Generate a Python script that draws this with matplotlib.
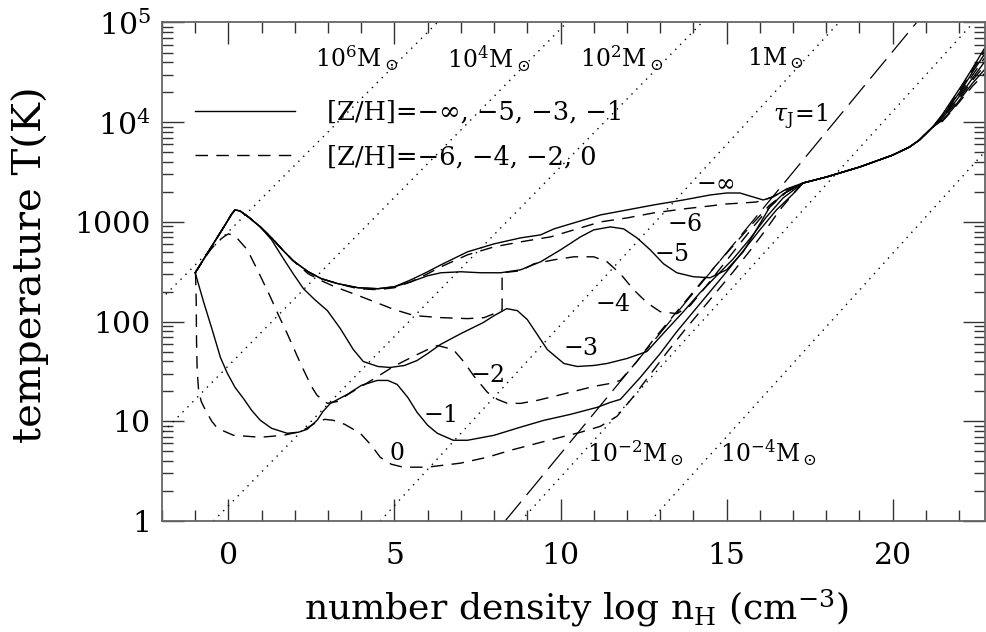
import numpy as np
import matplotlib
matplotlib.use('Agg')
import matplotlib.pyplot as plt
from matplotlib.ticker import MultipleLocator, LogLocator, NullFormatter

# log10 T, x = log n_H
# shared early part (compressional heating peak)
E_x = [-1.0, -0.7, -0.4, -0.1, 0.1, 0.2, 0.35, 0.6, 0.96]
E_lt = [2.49, 2.65, 2.81, 2.97, 3.08, 3.12, 3.11, 3.05, 2.95]

# shared high density tail
tail_x = [17.3, 18.0, 19.0, 20.0, 20.5, 20.8, 21.2]
tail_lt = [3.39, 3.45, 3.55, 3.67, 3.75, 3.82, 3.95]
end_x = [21.5, 21.8, 22.1, 22.4, 22.8]

inf_x = E_x + [1.3, 1.6, 1.95, 2.4, 2.8, 3.3, 3.9, 4.5, 5.0, 5.5, 6.0, 6.4, 7.2, 8.0, 8.8, 9.4, 9.8, 10.4, 11.2, 12.0,
               12.8, 13.7, 14.5, 15.0, 15.4, 15.8, 16.1, 16.4, 16.8]
inf_lt = E_lt + [2.84, 2.73, 2.61, 2.50, 2.43, 2.38, 2.34, 2.33, 2.35, 2.42, 2.50, 2.57, 2.70, 2.78, 2.84, 2.87, 2.93, 2.99, 3.07, 3.12,
                 3.17, 3.22, 3.27, 3.29, 3.29, 3.25, 3.22, 3.25, 3.33]
inf_end = [4.08, 4.23, 4.38, 4.54, 4.76]

m6_x = E_x + [1.3, 1.6, 1.95, 2.4, 2.8, 3.3, 3.9, 4.5, 5.0, 5.5, 6.0, 6.4, 7.2, 8.0, 8.8, 9.7, 10.4, 11.2, 12.0, 12.8,
              13.7, 14.5, 15.0, 15.5, 15.9, 16.3, 16.8]
m6_lt = E_lt + [2.84, 2.73, 2.61, 2.50, 2.43, 2.38, 2.33, 2.32, 2.34, 2.40, 2.48, 2.55, 2.67, 2.75, 2.80, 2.85, 2.92, 3.00, 3.04, 3.09,
                3.13, 3.16, 3.18, 3.19, 3.20, 3.24, 3.32]
m6_end = [4.07, 4.21, 4.36, 4.52, 4.73]

m5_x = E_x + [1.3, 1.6, 1.95, 2.4, 2.8, 3.3, 3.9, 4.5, 5.0, 5.5, 6.0, 6.4, 7.0, 7.6, 8.2, 8.8, 9.4, 10.0, 10.6, 11.0,
              11.5, 11.9, 12.3, 12.7, 13.1, 13.5, 14.0, 14.5, 15.0, 15.5, 16.0, 16.3, 16.7]
m5_lt = E_lt + [2.84, 2.73, 2.61, 2.50, 2.43, 2.38, 2.34, 2.33, 2.35, 2.40, 2.46, 2.49, 2.50, 2.49, 2.49, 2.52, 2.60, 2.72, 2.85, 2.92,
                2.95, 2.93, 2.84, 2.72, 2.58, 2.49, 2.45, 2.44, 2.52, 2.70, 2.98, 3.15, 3.28]
m5_end = [4.06, 4.20, 4.34, 4.50, 4.70]

m4_x = E_x + [1.3, 1.6, 1.95, 2.4, 2.8, 3.2, 4.0, 5.0, 5.6, 6.4, 7.2, 7.7, 8.0, 8.24, 8.24, 8.8, 9.2, 9.8, 10.4, 11.0,
              11.4, 11.8, 12.2, 12.6, 13.0, 13.5, 13.9, 14.3, 14.8, 15.3, 15.8, 16.3, 16.8]
m4_lt = E_lt + [2.84, 2.73, 2.61, 2.48, 2.41, 2.35, 2.25, 2.12, 2.06, 2.04, 2.03, 2.04, 2.08, 2.12, 2.49, 2.51, 2.58, 2.62, 2.65, 2.65,
                2.60, 2.48, 2.32, 2.19, 2.10, 2.08, 2.16, 2.32, 2.53, 2.74, 2.95, 3.15, 3.30]
m4_end = [4.05, 4.18, 4.32, 4.47, 4.66]

m3_x = E_x + [1.3, 1.6, 1.95, 2.26, 2.6, 2.98, 3.37, 3.76, 4.06, 4.5, 4.87, 5.3, 5.68, 6.0, 6.38, 7.0, 7.67, 8.0, 8.38, 8.7,
              9.0, 9.3, 9.6, 10.1, 10.5, 11.0, 11.4, 12.0, 12.6, 13.2, 13.7, 14.2, 14.7, 15.2, 15.7, 16.2, 16.7]
m3_lt = E_lt + [2.82, 2.66, 2.48, 2.33, 2.22, 2.11, 1.93, 1.72, 1.60, 1.55, 1.54, 1.56, 1.61, 1.68, 1.77, 1.88, 1.99, 2.06, 2.13, 2.11,
                2.02, 1.87, 1.72, 1.58, 1.55, 1.56, 1.58, 1.63, 1.70, 1.92, 2.10, 2.29, 2.46, 2.63, 2.83, 3.05, 3.24]
m3_end = [4.04, 4.17, 4.30, 4.44, 4.62]

m2_x = [-1.0, -0.75, -0.54, -0.3, -0.1, 0.0, 0.2, 0.57, 0.9, 1.26, 1.5, 1.77, 2.17, 2.5, 2.67, 2.98, 3.3, 3.6, 4.0, 4.4,
        4.97, 5.56, 6.0, 6.3, 6.77, 7.08, 7.4, 7.8, 8.1, 8.4, 8.8, 9.3, 9.8, 10.4, 11.0, 11.5, 11.8, 12.3, 12.8, 13.3,
        13.8, 14.3, 14.8, 15.3, 15.8, 16.3, 16.8]
m2_lt = [2.49, 2.62, 2.72, 2.81, 2.86, 2.88, 2.86, 2.72, 2.50, 2.25, 2.07, 1.88, 1.58, 1.35, 1.26, 1.18, 1.20, 1.27, 1.35, 1.43,
         1.55, 1.65, 1.72, 1.76, 1.72, 1.60, 1.45, 1.29, 1.22, 1.18, 1.18, 1.21, 1.25, 1.30, 1.35, 1.38, 1.41, 1.60, 1.82, 2.02,
         2.22, 2.42, 2.61, 2.80, 2.99, 3.17, 3.30]
m2_end = [4.03, 4.15, 4.28, 4.42, 4.58]

m1_x = [-1.0, -0.75, -0.49, -0.24, -0.03, 0.2, 0.45, 0.7, 0.96, 1.3, 1.77, 2.1, 2.37, 2.67, 2.85, 3.07, 3.58, 4.0, 4.48, 4.8,
        5.08, 5.4, 5.68, 6.0, 6.29, 6.77, 7.2, 8.0, 8.78, 9.5, 10.3, 11.1, 11.5, 11.8, 12.4, 13.0, 13.5, 14.0, 14.5, 15.0,
        15.5, 16.0, 16.5, 17.0]
m1_lt = [2.49, 2.20, 1.92, 1.64, 1.48, 1.34, 1.23, 1.11, 1.01, 0.93, 0.88, 0.89, 0.92, 1.01, 1.10, 1.18, 1.27, 1.36, 1.41, 1.41,
         1.37, 1.24, 1.09, 0.96, 0.88, 0.81, 0.81, 0.86, 0.94, 1.01, 1.07, 1.14, 1.19, 1.22, 1.44, 1.68, 1.90, 2.10, 2.30, 2.50,
         2.71, 2.92, 3.12, 3.28]
m1_end = [4.02, 4.13, 4.26, 4.39, 4.54]

z0_x = [-0.99, -0.97, -0.96, -0.94, -0.9, -0.82, -0.69, -0.5, -0.33, 0.15, 0.96, 1.66, 2.2, 2.6, 2.9, 3.16, 3.5, 3.97, 4.3, 4.57,
        4.9, 5.26, 5.98, 6.98, 7.8, 8.5, 9.3, 10.0, 10.6, 11.2, 11.7, 12.2, 12.7, 13.2, 13.7, 14.2, 14.7, 15.2, 15.7, 16.2,
        16.6, 17.0]
z0_lt = [2.49, 2.2, 1.8, 1.5, 1.32, 1.2, 1.11, 1.0, 0.93, 0.86, 0.84, 0.86, 0.90, 0.98, 1.02, 1.01, 0.97, 0.88, 0.76, 0.64,
         0.57, 0.54, 0.54, 0.58, 0.64, 0.71, 0.78, 0.84, 0.89, 0.95, 1.05, 1.25, 1.47, 1.69, 1.90, 2.10, 2.30, 2.50, 2.71, 2.93,
         3.12, 3.28]
z0_end = [4.01, 4.12, 4.24, 4.36, 4.50]

# constant Jeans mass lines: log n at T=1 K and at T=1e5 K
jeans_lo = [-8.7, -4.61, -0.45, 4.57, 8.8, 12.7]
jeans_hi = [6.29, 10.19, 14.26, 18.38, 22.43, 26.3]
jeans_lab = [r'$10^6{\rm M}_\odot$', r'$10^4{\rm M}_\odot$', r'$10^2{\rm M}_\odot$', r'$1{\rm M}_\odot$',
             r'$10^{-2}{\rm M}_\odot$', r'$10^{-4}{\rm M}_\odot$']
jeans_lab_x = [2.62, 6.59, 10.59, 15.61, 10.8, 14.8]
jeans_lab_lt = [4.64, 4.64, 4.64, 4.64, 0.68, 0.68]

# tau_J = 1 line
tau_x = [8.33, 20.72]
tau_T = [1, 1e5]

curve_lab = [r'$-\infty$', r'$-6$', r'$-5$', r'$-4$', r'$-3$', r'$-2$', r'$-1$', r'$0$']
curve_lab_x = [14.65, 13.74, 13.35, 11.58, 10.59, 7.79, 6.35, 5.08]
curve_lab_lt = [3.39, 2.97, 2.67, 2.17, 1.73, 1.46, 1.06, 0.68]

plt.rcParams['font.family'] = ['DejaVu Serif', 'DejaVu Sans']
plt.rcParams['mathtext.fontset'] = 'dejavuserif'

fig = plt.figure(figsize=(9.86, 6.32), dpi=100)
ax = fig.add_axes([0.1643, 0.1756, 0.8347, 0.7888])

solid = dict(color='black', lw=1.0, ls='-')
dashed = dict(color='black', lw=1.0, ls=(0, (9, 6)))

curves = [(inf_x, inf_lt, inf_end, solid), (m6_x, m6_lt, m6_end, dashed),
          (m5_x, m5_lt, m5_end, solid), (m4_x, m4_lt, m4_end, dashed),
          (m3_x, m3_lt, m3_end, solid), (m2_x, m2_lt, m2_end, dashed),
          (m1_x, m1_lt, m1_end, solid), (z0_x, z0_lt, z0_end, dashed)]
handles = []
for cx, clt, cend, sty in curves:
    xx = cx + tail_x + end_x
    yy = 10 ** np.array(clt + tail_lt + cend)
    h, = ax.plot(xx, yy, **sty)
    handles.append(h)

for lo, hi in zip(jeans_lo, jeans_hi):
    ax.plot([lo, hi], [1, 1e5], color='black', lw=1.0, ls=(0, (1, 4)))
ax.plot(tau_x, tau_T, color='black', lw=0.9, ls=(0, (20, 7)))

for s, x, lt in zip(jeans_lab, jeans_lab_x, jeans_lab_lt):
    ax.text(x, 10 ** lt, s, fontsize=17, ha='left', va='center')
ax.text(16.39, 10 ** 4.05, r'$\tau_{\rm J}\!=\!1$', fontsize=17, ha='left', va='center')

for s, x, lt in zip(curve_lab, curve_lab_x, curve_lab_lt):
    ax.text(x, 10 ** lt, s, fontsize=17, ha='center', va='center')

ax.legend([handles[0], handles[1]], ['[Z/H]=−∞, −5, −3, −1', '[Z/H]=−6, −4, −2, 0'],
          loc='upper left', bbox_to_anchor=(0.04, 0.845), frameon=False, fontsize=18.5,
          handlelength=3.9, handletextpad=1.25, labelspacing=0.75, borderpad=0, borderaxespad=0)

ax.set_yscale('log')
ax.set_xlim(-2, 22.78)
ax.set_ylim(1, 1e5)
ax.xaxis.set_major_locator(MultipleLocator(5))
ax.xaxis.set_minor_locator(MultipleLocator(1))
ax.set_yticks([1, 10, 100, 1000, 1e4, 1e5])
ax.set_yticklabels(['1', '10', '100', '1000', r'$10^4$', r'$10^5$'])
ax.yaxis.set_minor_locator(LogLocator(base=10, subs=np.arange(2, 10)))
ax.yaxis.set_minor_formatter(NullFormatter())

ax.tick_params(which='both', direction='in', top=True, right=True, color='#333333', width=1.0, labelsize=21.5)
ax.tick_params(which='major', length=16)
ax.tick_params(which='minor', length=8)
ax.tick_params(axis='x', pad=15)
ax.tick_params(axis='y', pad=8)
for sp in ax.spines.values():
    sp.set_color('#666666')
    sp.set_linewidth(1.3)

ax.set_xlabel(r'number density log n$_{\rm H}$ (cm$^{-3}$)', fontsize=26)
ax.set_ylabel('temperature T(K)', fontsize=29)
ax.xaxis.set_label_coords(0.503, -0.132)
ax.yaxis.set_label_coords(-0.137, 0.515)

fig.savefig('out.png', dpi=100)
